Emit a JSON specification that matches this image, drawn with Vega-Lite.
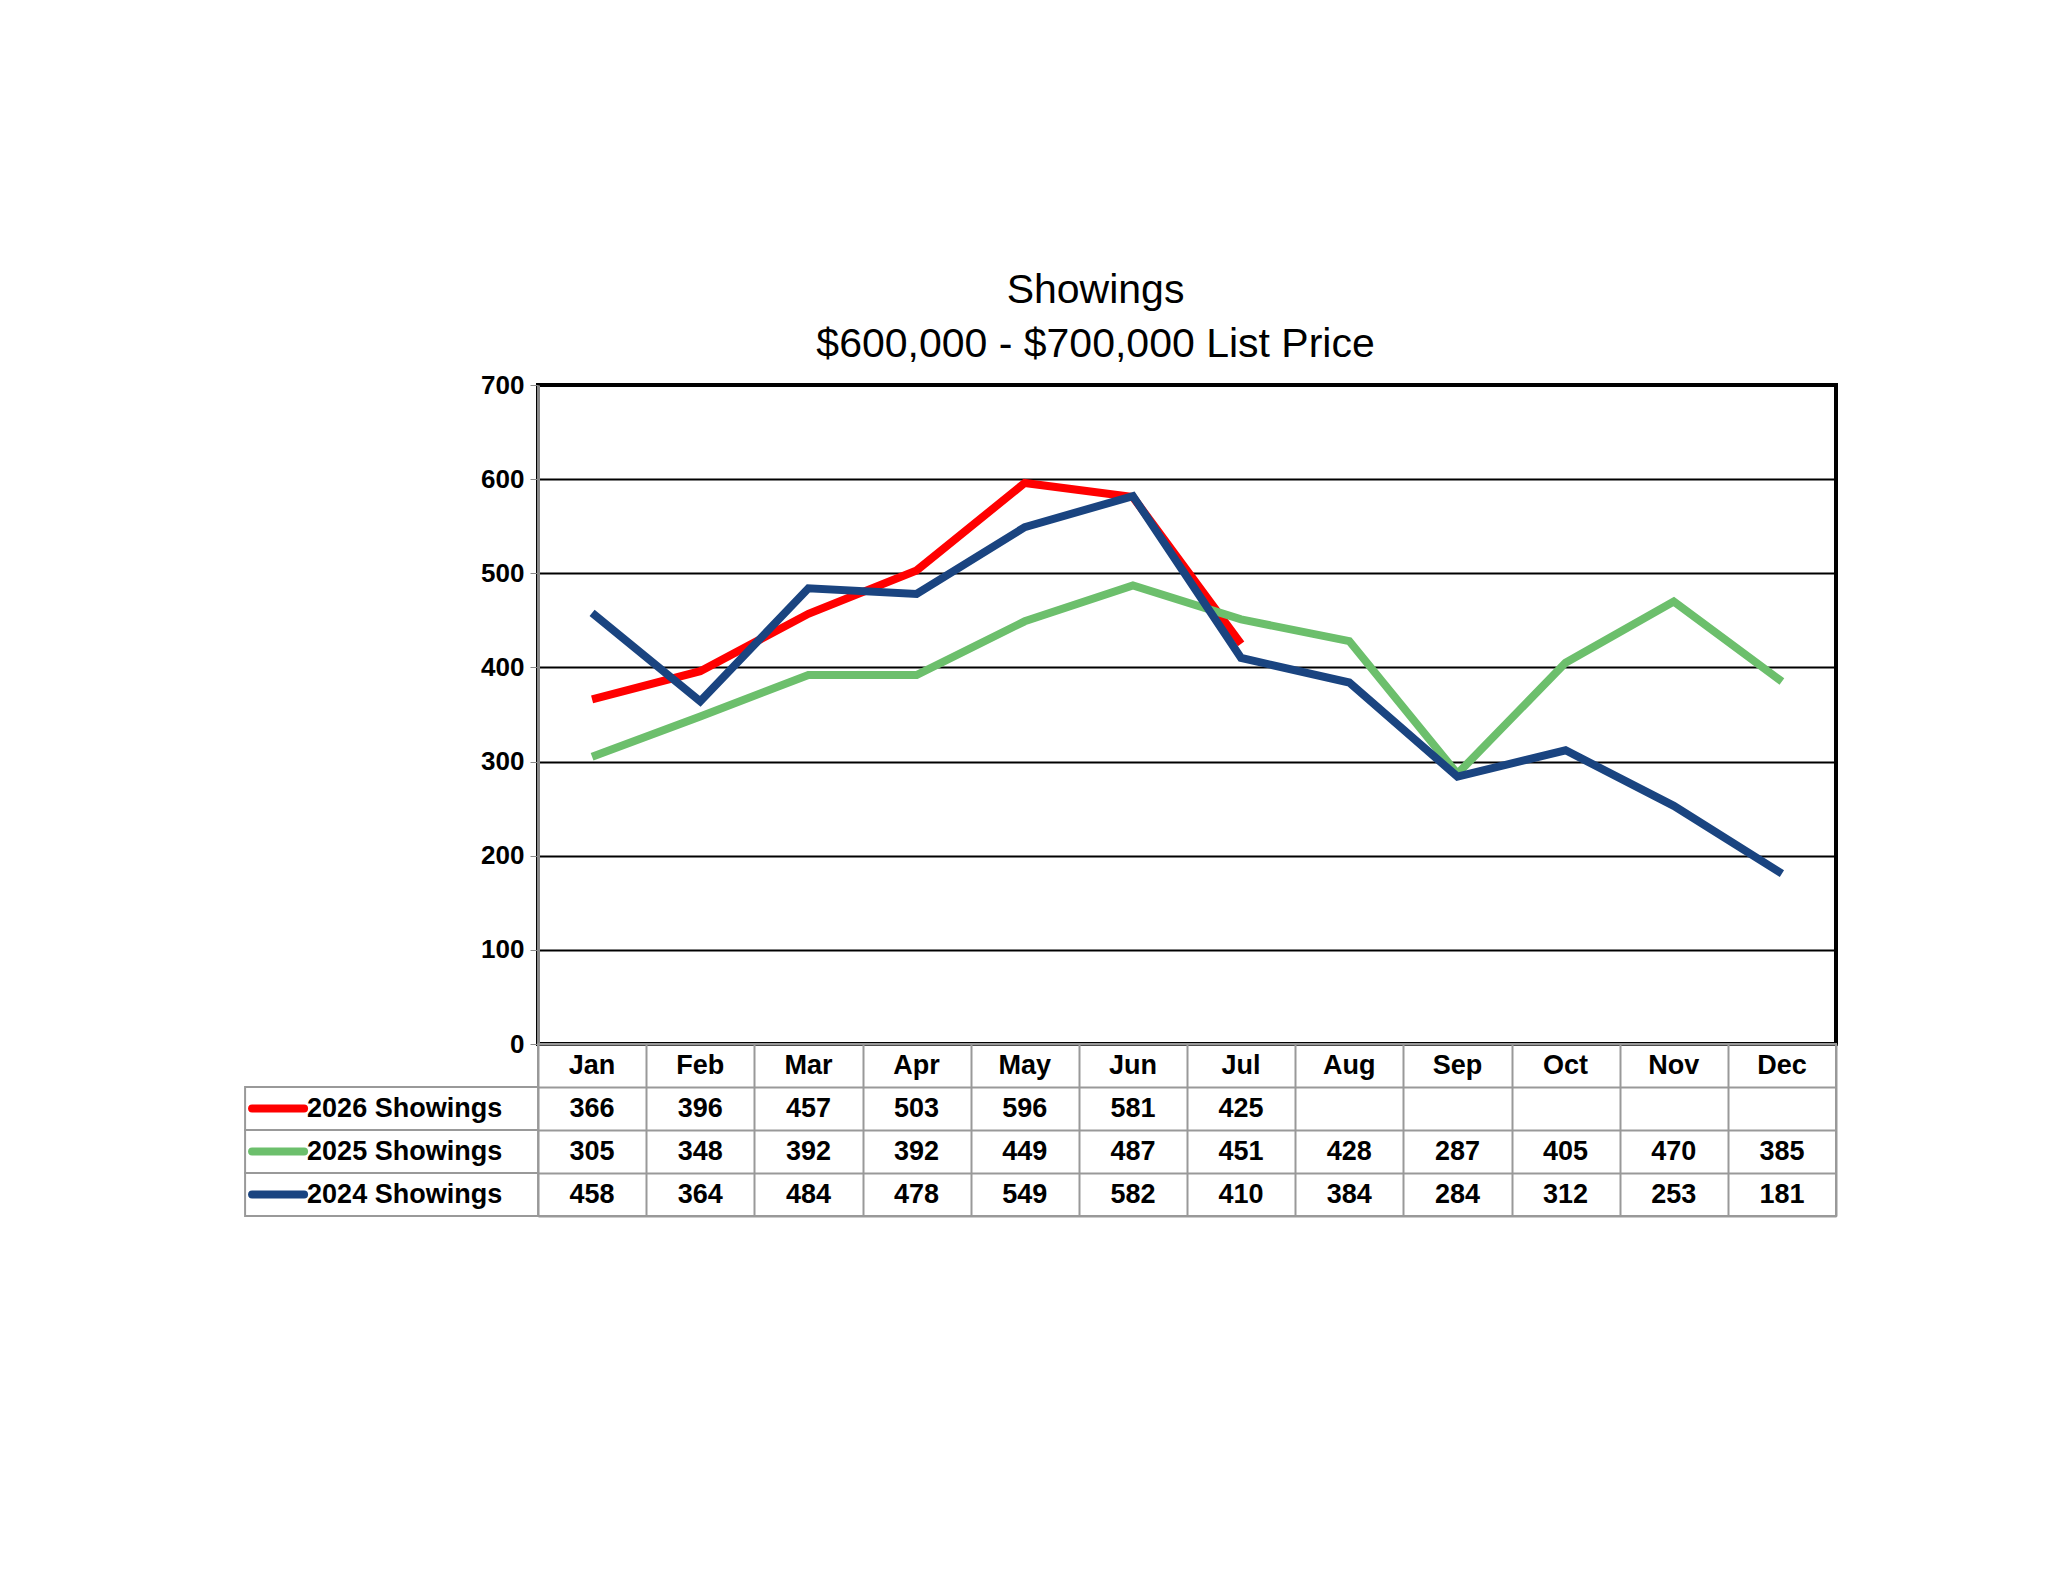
{
  "$schema": "https://vega.github.io/schema/vega-lite/v6.json",
  "padding": {"left": 243, "top": 270, "right": 10, "bottom": 10},
  "background": "white",
  "bounds": "flush",
  "title": {
    "text": ["Showings", "$600,000 - $700,000 List Price"],
    "font": "Liberation Sans",
    "fontSize": 41,
    "fontWeight": "normal",
    "anchor": "middle",
    "dx": 55,
    "lineHeight": 54,
    "offset": 4
  },
  "datasets": {
    "showings": [
      {"month": "Jan", "series": "2026 Showings", "value": 366},
      {"month": "Feb", "series": "2026 Showings", "value": 396},
      {"month": "Mar", "series": "2026 Showings", "value": 457},
      {"month": "Apr", "series": "2026 Showings", "value": 503},
      {"month": "May", "series": "2026 Showings", "value": 596},
      {"month": "Jun", "series": "2026 Showings", "value": 581},
      {"month": "Jul", "series": "2026 Showings", "value": 425},
      {"month": "Jan", "series": "2025 Showings", "value": 305},
      {"month": "Feb", "series": "2025 Showings", "value": 348},
      {"month": "Mar", "series": "2025 Showings", "value": 392},
      {"month": "Apr", "series": "2025 Showings", "value": 392},
      {"month": "May", "series": "2025 Showings", "value": 449},
      {"month": "Jun", "series": "2025 Showings", "value": 487},
      {"month": "Jul", "series": "2025 Showings", "value": 451},
      {"month": "Aug", "series": "2025 Showings", "value": 428},
      {"month": "Sep", "series": "2025 Showings", "value": 287},
      {"month": "Oct", "series": "2025 Showings", "value": 405},
      {"month": "Nov", "series": "2025 Showings", "value": 470},
      {"month": "Dec", "series": "2025 Showings", "value": 385},
      {"month": "Jan", "series": "2024 Showings", "value": 458},
      {"month": "Feb", "series": "2024 Showings", "value": 364},
      {"month": "Mar", "series": "2024 Showings", "value": 484},
      {"month": "Apr", "series": "2024 Showings", "value": 478},
      {"month": "May", "series": "2024 Showings", "value": 549},
      {"month": "Jun", "series": "2024 Showings", "value": 582},
      {"month": "Jul", "series": "2024 Showings", "value": 410},
      {"month": "Aug", "series": "2024 Showings", "value": 384},
      {"month": "Sep", "series": "2024 Showings", "value": 284},
      {"month": "Oct", "series": "2024 Showings", "value": 312},
      {"month": "Nov", "series": "2024 Showings", "value": 253},
      {"month": "Dec", "series": "2024 Showings", "value": 181}
    ],
    "months": [
      {"month": "Jan"}, {"month": "Feb"}, {"month": "Mar"}, {"month": "Apr"},
      {"month": "May"}, {"month": "Jun"}, {"month": "Jul"}, {"month": "Aug"},
      {"month": "Sep"}, {"month": "Oct"}, {"month": "Nov"}, {"month": "Dec"}
    ],
    "rows": [
      {"series": "2026 Showings"}, {"series": "2025 Showings"}, {"series": "2024 Showings"}
    ]
  },
  "spacing": 0,
  "config": {
    "font": "Liberation Sans",
    "view": {"stroke": null}
  },
  "vconcat": [
    {
      "width": 1298,
      "height": 659,
      "data": {"name": "showings"},
      "view": {"stroke": "black", "strokeWidth": 4},
      "mark": {"type": "line", "strokeWidth": 8},
      "encoding": {
        "x": {
          "field": "month", "type": "nominal", "sort": null,
          "scale": {"type": "point", "padding": 0.5,
            "domain": ["Jan","Feb","Mar","Apr","May","Jun","Jul","Aug","Sep","Oct","Nov","Dec"]},
          "axis": null
        },
        "y": {
          "field": "value", "type": "quantitative",
          "scale": {"domain": [0, 700]},
          "axis": {
            "title": null, "values": [0,100,200,300,400,500,600,700],
            "labelFontSize": 26, "labelFontWeight": "bold", "labelColor": "black",
            "labelPadding": 6, "tickColor": "#888", "tickSize": 8,
            "domainColor": "#888", "domainWidth": 3,
            "gridColor": "black", "gridWidth": 2, "gridOpacity": 1
          }
        },
        "color": {
          "field": "series", "type": "nominal",
          "scale": {"domain": ["2026 Showings", "2025 Showings", "2024 Showings"],
                    "range": ["#ff0000", "#6cbf6c", "#1a4480"]},
          "legend": null
        },
        "order": {"field": "series"}
      }
    },
    {
      "width": 1298,
      "height": 172,
      "view": {"stroke": "#999", "strokeWidth": 2},
      "encoding": {
        "x": {
          "field": "month", "type": "nominal", "sort": null,
          "scale": {"type": "band", "paddingInner": 0, "paddingOuter": 0,
            "domain": ["Jan","Feb","Mar","Apr","May","Jun","Jul","Aug","Sep","Oct","Nov","Dec"]},
          "axis": {"title": null, "labels": false, "ticks": false, "domain": false,
                   "grid": true, "gridColor": "#999", "gridWidth": 2, "tickBand": "extent"}
        },
        "y": {
          "field": "series", "type": "nominal",
          "scale": {"type": "band", "paddingInner": 0, "paddingOuter": 0,
            "domain": ["hdr", "2026 Showings", "2025 Showings", "2024 Showings"]},
          "axis": {"title": null, "labels": false, "ticks": false, "domain": false,
                   "grid": true, "gridColor": "#999", "gridWidth": 2, "tickBand": "extent"}
        }
      },
      "layer": [
        {
          "data": {"name": "rows"},
          "mark": {"type": "rect", "fill": "white", "stroke": "#999", "strokeWidth": 2, "clip": false, "xOffset": -347, "x2Offset": -54},
          "encoding": {
            "x": {"datum": "Jan"},
            "x2": {"datum": "Jan"},
            "y": {"field": "series"}
          }
        },
        {
          "data": {"name": "rows"},
          "mark": {"type": "rule", "strokeWidth": 8, "strokeCap": "round", "clip": false, "xOffset": -340, "x2Offset": -288},
          "encoding": {
            "x": {"datum": "Jan"},
            "x2": {"datum": "Jan"},
            "y": {"field": "series", "band": 0.5},
            "color": {
              "field": "series", "type": "nominal",
              "scale": {"domain": ["2026 Showings", "2025 Showings", "2024 Showings"],
                        "range": ["#ff0000", "#6cbf6c", "#1a4480"]},
              "legend": null
            }
          }
        },
        {
          "data": {"name": "rows"},
          "mark": {"type": "text", "align": "left", "fontSize": 27, "fontWeight": "bold", "color": "black", "clip": false, "xOffset": -285, "letterSpacing": 1},
          "encoding": {
            "x": {"datum": "Jan"},
            "y": {"field": "series", "band": 0.5},
            "text": {"field": "series"}
          }
        },
        {
          "data": {"name": "months"},
          "mark": {"type": "text", "fontSize": 27, "fontWeight": "bold", "color": "black"},
          "encoding": {
            "y": {"datum": "hdr", "type": "nominal"},
            "text": {"field": "month", "type": "nominal"}
          }
        },
        {
          "data": {"name": "showings"},
          "mark": {"type": "text", "fontSize": 27, "fontWeight": "bold", "color": "black"},
          "encoding": {"text": {"field": "value", "type": "quantitative"}}
        }
      ]
    }
  ]
}
